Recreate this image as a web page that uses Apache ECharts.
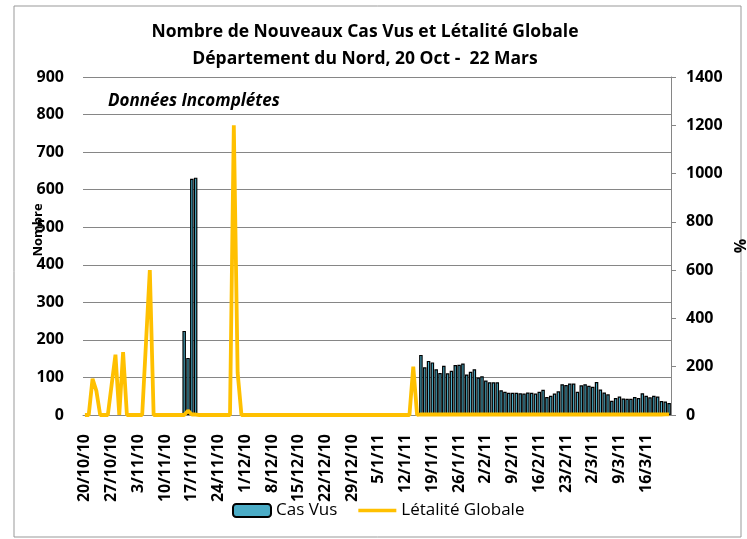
<!DOCTYPE html>
<html>
<head>
<meta charset="utf-8">
<script src="https://cdn.jsdelivr.net/npm/echarts@6/dist/echarts.min.js"></script>
<style>
  html, body { margin: 0; padding: 0; background: #fff; }
  #main { width: 747px; height: 539px; }
</style>
</head>
<body>
<div id="main"></div>
<script>
// jours du 20/10/10 au 22/3/11 (154 jours), une etiquette par semaine
var nbJours = 154;
var categories = [];
for (var i = 0; i < nbJours; i++) {
  var d = new Date(2010, 9, 20 + i);
  categories.push(d.getDate() + '/' + (d.getMonth() + 1) + '/' + String(d.getFullYear()).slice(2));
}

// Cas Vus (axe gauche) - null = pas de donnee
var casVus = [
  null, null, null, null, null, null, null, null, null, null, null, null, null, null,
  null, null, null, null, null, null, null, null, null, null, null, null, 224, 152,
  629, 632, null, null, null, null, null, null, null, null, null, null, null, null,
  null, null, null, null, null, null, null, null, null, null, null, null, null, null,
  null, null, null, null, null, null, null, null, null, null, null, null, null, null,
  null, null, null, null, null, null, null, null, null, null, null, null, null, null,
  null, null, null, null, 160, 127, 144, 140, 122, 112, 131, 111, 118, 133,
  134, 137, 108, 115, 122, 100, 103, 92, 87, 87, 87, 66, 62, 59,
  59, 59, 58, 57, 60, 59, 57, 62, 67, 48, 51, 57, 63, 82,
  80, 84, 84, 62, 79, 82, 78, 75, 88, 68, 60, 55, 38, 45,
  49, 44, 43, 43, 48, 45, 58, 51, 47, 51, 49, 37, 36, 32
];

// Létalité Globale en % (axe droit)
var letalite = [
  0, 0, 150, 100, 0, 0, 0, 125, 250, 0, 260, 0, 0, 0,
  0, 0, 300, 600, 0, 0, 0, 0, 0, 0, 0, 0, 0, 18,
  2, 2, 0, 0, 0, 0, 0, 0, 0, 0, 0, 1200, 175, 0,
  0, 0, 0, 0, 0, 0, 0, 0, 0, 0, 0, 0, 0, 0,
  0, 0, 0, 0, 0, 0, 0, 0, 0, 0, 0, 0, 0, 0,
  0, 0, 0, 0, 0, 0, 0, 0, 0, 0, 0, 0, 0, 0,
  0, 0, 200, 0, 3, 2, 2, 3, 2, 2, 2, 3, 2, 2,
  2, 2, 3, 2, 2, 2, 2, 3, 2, 2, 2, 2, 2, 2,
  2, 2, 2, 2, 2, 2, 2, 2, 2, 3, 2, 2, 2, 2,
  2, 2, 2, 2, 2, 2, 2, 2, 2, 2, 2, 2, 2, 2,
  2, 2, 2, 2, 2, 2, 2, 2, 2, 2, 2, 2, 3, 3
];

var police = "'Open Sans', 'Noto Sans', sans-serif";
var chart = echarts.init(document.getElementById('main'));

chart.setOption({
  animation: false,
  textStyle: { fontFamily: police, color: '#000' },
  title: {
    text: 'Nombre de Nouveaux Cas Vus et Létalité Globale\nDépartement du Nord, 20 Oct -  22 Mars',
    left: 360,
    top: 14,
    textAlign: 'center',
    textStyle: { fontFamily: police, fontSize: 17.5, fontWeight: 'bold', color: '#000', lineHeight: 27 }
  },
  legend: {
    left: 227,
    top: 497,
    itemWidth: 38,
    itemHeight: 13,
    itemGap: 21,
    textStyle: { fontFamily: police, fontSize: 17, color: '#000' },
    data: [
      'Cas Vus',
      { name: 'Létalité Globale', icon: 'path://M0,0 L42,0 L42,4 L0,4 Z', itemStyle: { color: '#FFC000', borderWidth: 0 } }
    ]
  },
  grid: { left: 83, right: 76, top: 77, bottom: 124, outerBoundsMode: 'none', containLabel: false },
  xAxis: {
    type: 'category',
    data: categories,
    boundaryGap: true,
    axisLine: { lineStyle: { color: '#868686' } },
    axisTick: { show: false },
    axisLabel: {
      rotate: 90,
      interval: function (index) { return index % 7 === 0; },
      margin: 19,
      fontFamily: police,
      fontSize: 16,
      fontWeight: 'bold',
      color: '#000'
    }
  },
  yAxis: [
    {
      type: 'value',
      min: 0,
      max: 900,
      interval: 100,
      axisLine: { show: false },
      axisTick: { show: false },
      splitLine: { lineStyle: { color: '#868686', width: 1 } },
      axisLabel: { margin: 19, fontFamily: police, fontSize: 16, fontWeight: 'bold', color: '#000' }
    },
    {
      type: 'value',
      min: 0,
      max: 1400,
      interval: 200,
      name: '%',
      nameLocation: 'middle',
      nameGap: 56,
      nameRotate: 90,
      nameTextStyle: { fontFamily: police, fontSize: 16, fontWeight: 'bold', color: '#000' },
      axisLine: { show: true, lineStyle: { color: '#868686' } },
      axisTick: { show: true, inside: false, length: 5, lineStyle: { color: '#868686' } },
      splitLine: { show: false },
      axisLabel: {
        margin: 15, fontFamily: police, fontSize: 16, fontWeight: 'bold', color: '#000',
        formatter: function (v) { return String(v); }
      }
    }
  ],
  graphic: [
    {
      type: 'rect',
      shape: { x: 14, y: 6, width: 727, height: 531 },
      style: { fill: null, stroke: '#999', lineWidth: 1 },
      silent: true,
      z: -1
    },
    {
      type: 'text',
      x: 108,
      y: 101,
      style: {
        text: 'Données Incomplétes',
        font: "italic bold 17px 'Open Sans', 'Noto Sans', sans-serif",
        fill: '#000',
        textVerticalAlign: 'middle'
      }
    },
    {
      type: 'text',
      x: 38,
      y: 230,
      rotation: Math.PI / 2,
      style: {
        text: 'Nombre',
        font: "bold 13px 'Open Sans', 'Noto Sans', sans-serif",
        fill: '#000',
        textAlign: 'center',
        textVerticalAlign: 'middle'
      }
    }
  ],
  series: [
    {
      name: 'Cas Vus',
      type: 'bar',
      yAxisIndex: 0,
      data: casVus,
      barCategoryGap: '8%',
      itemStyle: { color: '#4BACC6', borderColor: '#000', borderWidth: 1.2 }
    },
    {
      name: 'Létalité Globale',
      type: 'line',
      yAxisIndex: 1,
      data: letalite,
      symbol: 'none',
      lineStyle: { color: '#FFC000', width: 3.8 },
      itemStyle: { color: '#FFC000' }
    }
  ]
});
</script>
</body>
</html>
